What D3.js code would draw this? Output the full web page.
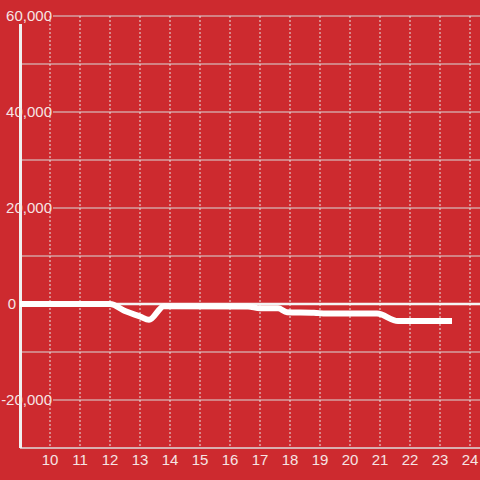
<!DOCTYPE html>
<html><head><meta charset="utf-8">
<script src="https://cdn.jsdelivr.net/npm/d3@7"></script>
<style>
html,body{margin:0;padding:0;background:#cd2a2f;}
svg{display:block;font-family:"Liberation Sans",Arial,sans-serif;}
</style></head>
<body><svg id="c" width="480" height="480"></svg>
<script>
const xValues = [9, 12, 12.5, 13, 13.3, 13.8, 16.6, 17, 17.6, 17.9, 18.8, 19.2, 20.9, 21.6, 23.4];
const yValues = [0, 0, -1450, -2600, -3300, -450, -500, -900, -900, -1700, -1800, -2000, -2000, -3550, -3550];
const xTicks = [10, 11, 12, 13, 14, 15, 16, 17, 18, 19, 20, 21, 22, 23, 24];
const yGrid = [60000, 50000, 40000, 30000, 20000, 10000, 0, -10000, -20000, -30000];
const yLabels = [60000, 40000, 20000, 0, -20000];

const svg = d3.select("#c");
const W = 480, H = 480;
const x = d3.scaleLinear().domain([9, 9 + 460 / 30]).range([20, 480]);
const y = d3.scaleLinear().domain([-30000, 60000]).range([448, 16]);
const fmt = d3.formatLocale({decimal: ".", thousands: ",", grouping: [3], currency: ["$", ""], minus: "-"}).format(",");

svg.append("rect").attr("width", W).attr("height", H).attr("fill", "#cd2a2f");

// horizontal grid (labelled lines begin after their label)
svg.append("g").selectAll("line").data(yGrid.filter(d => d !== 0 && d !== -30000)).join("line")
  .attr("x1", d => yLabels.includes(d) ? 53 : 22).attr("x2", 480)
  .attr("y1", d => y(d)).attr("y2", d => y(d))
  .attr("stroke", "#d9d9d9").attr("stroke-width", 1.2);

// vertical dotted grid
svg.append("g").selectAll("line").data(xTicks).join("line")
  .attr("x1", d => x(d)).attr("x2", d => x(d))
  .attr("y1", y(60000)).attr("y2", y(-30000))
  .attr("stroke", "#e6e6e6").attr("stroke-width", 1).attr("stroke-dasharray", "2,2");

// bottom axis line
svg.append("line").attr("x1", 20).attr("x2", 480).attr("y1", y(-30000)).attr("y2", y(-30000))
  .attr("stroke", "#dcdcdc").attr("stroke-width", 1.5);

// zero line
svg.append("line").attr("x1", 22).attr("x2", 480).attr("y1", y(0)).attr("y2", y(0))
  .attr("stroke", "#f4f4f4").attr("stroke-width", 2.7);

// y axis line
svg.append("line").attr("x1", 20.5).attr("x2", 20.5).attr("y1", 24).attr("y2", y(-30000))
  .attr("stroke", "#f0f0f0").attr("stroke-width", 3);

// data line
const pts = xValues.map((d, i) => [d, yValues[i]]);
svg.append("path").datum(pts)
  .attr("d", d3.line().x(d => x(d[0])).y(d => y(d[1])).curve(d3.curveMonotoneX))
  .attr("fill", "none").attr("stroke", "#ffffff").attr("stroke-width", 6)
  .attr("stroke-linejoin", "round");

// y labels
svg.append("g").selectAll("text").data(yLabels).join("text")
  .attr("x", d => d === 0 ? 16 : 52)
  .attr("y", d => y(d)).attr("dy", "0.35em")
  .attr("text-anchor", "end").attr("font-size", 15)
  .attr("fill", "#f6e4e4").text(d => fmt(d));

// x labels
svg.append("g").selectAll("text").data(xTicks).join("text")
  .attr("x", d => x(d)).attr("y", 465)
  .attr("text-anchor", "middle").attr("font-size", 15)
  .attr("fill", "#f6e4e4").text(d => d);
</script></body></html>
